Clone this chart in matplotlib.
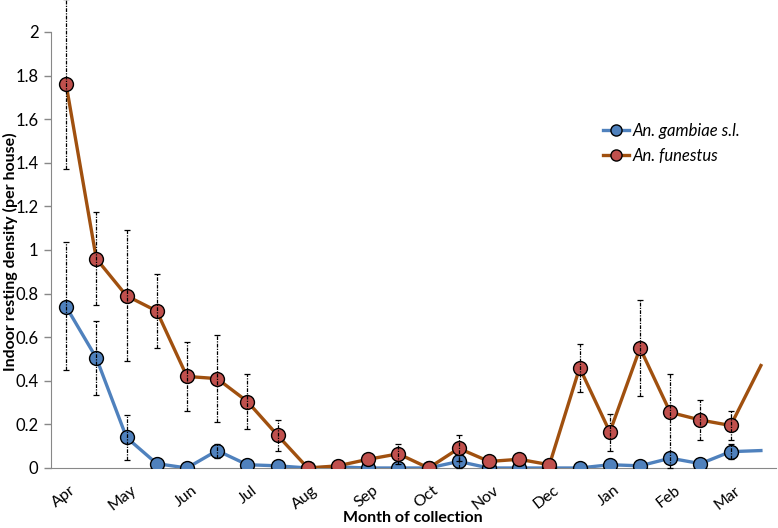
import numpy as np
import matplotlib.pyplot as plt
import matplotlib.transforms as mtransforms

plt.rcParams['font.family'] = ['Lato', 'DejaVu Sans']

months = ["Apr", "May", "Jun", "Jul", "Aug", "Sep", "Oct", "Nov", "Dec", "Jan", "Feb", "Mar"]

# fortnightly collections, 24 rounds
gambiae = [0.74, 0.505, 0.14, 0.02, 0.0, 0.08, 0.015, 0.01, 0.0, 0.005, 0.0, 0.0,
           0.0, 0.03, 0.0, 0.0, 0.0, 0.0, 0.015, 0.01, 0.045, 0.02, 0.075, 0.08]
gambiae_lo = [0.45, 0.335, 0.035, np.nan, np.nan, 0.045, np.nan, np.nan, np.nan, np.nan, np.nan, np.nan,
              np.nan, 0.0, np.nan, np.nan, np.nan, np.nan, np.nan, np.nan, np.nan, np.nan, 0.04, np.nan]
gambiae_hi = [1.035, 0.675, 0.245, np.nan, np.nan, 0.11, np.nan, np.nan, np.nan, np.nan, np.nan, np.nan,
              np.nan, 0.06, np.nan, np.nan, np.nan, np.nan, np.nan, np.nan, np.nan, np.nan, 0.11, np.nan]

funestus = [1.76, 0.96, 0.79, 0.72, 0.42, 0.41, 0.305, 0.15, 0.0, 0.01, 0.04, 0.065,
            0.0, 0.09, 0.03, 0.04, 0.015, 0.46, 0.165, 0.55, 0.255, 0.22, 0.195, 0.47]
funestus_lo = [1.37, 0.75, 0.49, 0.55, 0.26, 0.21, 0.18, 0.08, np.nan, np.nan, np.nan, 0.02,
               np.nan, 0.03, np.nan, np.nan, np.nan, 0.35, 0.08, 0.33, 0.0, 0.13, 0.13, np.nan]
funestus_hi = [2.15, 1.175, 1.09, 0.89, 0.58, 0.61, 0.43, 0.22, np.nan, np.nan, np.nan, 0.11,
               np.nan, 0.15, np.nan, np.nan, np.nan, 0.57, 0.25, 0.77, 0.43, 0.31, 0.26, np.nan]

x = np.arange(len(gambiae))
blue = '#4f81bd'
brown = '#a0500f'
red = '#c0504d'

fig = plt.figure(figsize=(7.78, 5.28), dpi=100)
ax = fig.add_axes([51/778, 1-468/528, 725/778, 436/528])

ax.plot(x, gambiae, color=blue, lw=2.4, marker='o', ms=10, mfc=blue, mec='black', mew=1,
        markevery=list(range(23)), label='An. gambiae s.l.', zorder=3)
ax.plot(x, funestus, color=brown, lw=2.4, marker='o', ms=10, mfc=red, mec='black', mew=1,
        markevery=list(range(23)), label='An. funestus', zorder=4)

for vals, lo, hi in [(gambiae, gambiae_lo, gambiae_hi), (funestus, funestus_lo, funestus_hi)]:
    v = np.array(vals); l = np.array(lo); h = np.array(hi)
    m = ~np.isnan(l)
    eb = ax.errorbar(x[m], v[m], yerr=[v[m]-l[m], h[m]-v[m]], fmt='none', ecolor='black',
                     elinewidth=0.9, capsize=2.5, capthick=0.9, zorder=5)
    for c in eb[2]:
        c.set_linestyle((0, (3, 1, 1, 1)))
        c.set_clip_on(False)
    for c in eb[1]:
        c.set_clip_on(False)

ax.set_xlim(-0.5, 23.5)
ax.set_ylim(0, 2)
ax.set_yticks(np.arange(0, 2.01, 0.2))
ax.set_yticklabels(['0'] + ['%g' % t for t in np.arange(0.2, 2.01, 0.2)], fontsize=12)
ax.set_xticks(x[::2])
ax.set_xticklabels(months, rotation=38, ha='right', va='top', rotation_mode='anchor', fontsize=11.5)
ax.tick_params(axis='x', length=0, pad=11)
ax.tick_params(axis='y', length=5, color='#888888', width=1, pad=4)
shift = mtransforms.ScaledTranslation(4/100, 0, fig.dpi_scale_trans)
for lab in ax.get_xticklabels():
    lab.set_transform(lab.get_transform() + shift)

for s in ['top', 'right']:
    ax.spines[s].set_visible(False)
ax.spines['left'].set_color('#888888')
ax.spines['bottom'].set_color('#888888')

fig.text(10/778, 1-252/528, 'Indoor resting density (per house)', rotation=90, fontsize=11.5,
         fontweight='bold', ha='center', va='center')
fig.text(413/778, 1-518/528, 'Month of collection', fontsize=11.5, fontweight='bold',
         ha='center', va='center')

leg = ax.legend(loc='upper left', bbox_to_anchor=(0.74, 0.825), frameon=False, fontsize=12,
                handlelength=1.6, handletextpad=0.2, labelspacing=0.5, markerscale=0.8)
for t in leg.get_texts():
    t.set_fontstyle('italic')

fig.savefig('out.png', dpi=100)
